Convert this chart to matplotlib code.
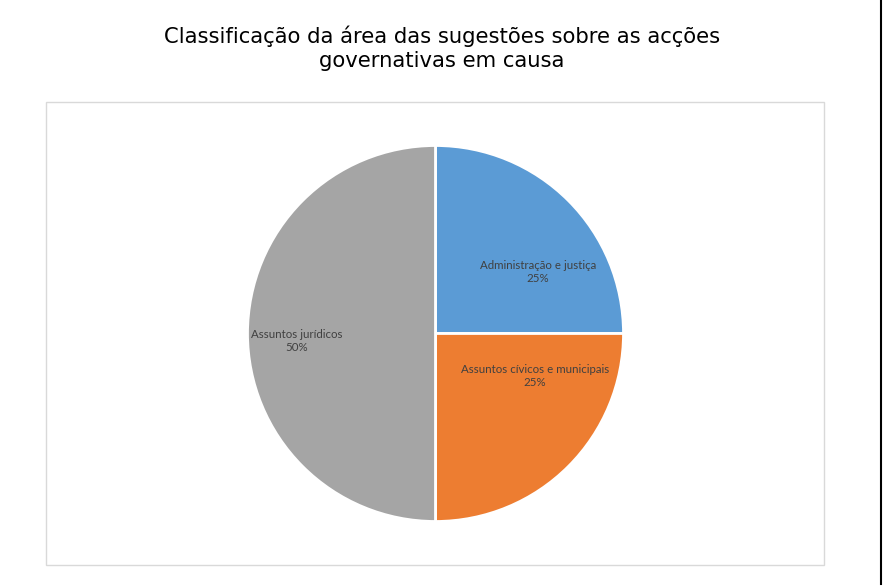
import numpy as np
import matplotlib.pyplot as plt
from matplotlib.patches import Rectangle
from matplotlib.lines import Line2D

# data
categories = ['Administração e justiça', 'Assuntos cívicos e municipais', 'Assuntos jurídicos']
shares = [25, 25, 50]
colors = ['#5B9BD5', '#ED7D31', '#A5A5A5']

# label placement (angle in degrees, distance as fraction of radius) - mimics Excel
label_angles = [31, -23, 183]
label_dists = [0.636, 0.575, 0.74]

W, H = 883, 587
fig = plt.figure(figsize=(W / 100, H / 100), dpi=100)

# chart area border
fig.add_artist(Rectangle((46 / W, 1 - 565 / H), (824 - 46) / W, (565 - 102) / H,
                         transform=fig.transFigure, fill=False,
                         edgecolor='#D9D9D9', linewidth=1))
# black edge at the right side of the screenshot
fig.add_artist(Line2D([881 / W, 881 / W], [1 - 584 / H, 1], transform=fig.transFigure,
                      color='black', linewidth=1.5))

fig.text(442 / W, 1 - 48.5 / H,
         'Classificação da área das sugestões sobre as acções\ngovernativas em causa',
         ha='center', va='center', fontsize=15.2, family='DejaVu Sans',
         color='black', linespacing=1.22)

r = 188
cx, cy = 435.5, 333.5
ax = fig.add_axes([(cx - r) / W, (H - cy - r) / H, 2 * r / W, 2 * r / H])

wedges, texts = ax.pie(shares, colors=colors, startangle=90, counterclock=False,
                       labels=[f'{c}\n{s}%' for c, s in zip(categories, shares)],
                       labeldistance=0.6,
                       wedgeprops=dict(edgecolor='white', linewidth=2),
                       textprops=dict(fontsize=8.3, family='Lato', color='#404040',
                                      ha='center', va='center', linespacing=1.2))

for t, a, d in zip(texts, label_angles, label_dists):
    t.set_position((d * np.cos(np.radians(a)), d * np.sin(np.radians(a))))
    t.set_ha('center')
    t.set_va('center')

ax.set_xlim(-1, 1)
ax.set_ylim(-1, 1)
ax.set_aspect('equal')

fig.savefig('out.png', dpi=100)
